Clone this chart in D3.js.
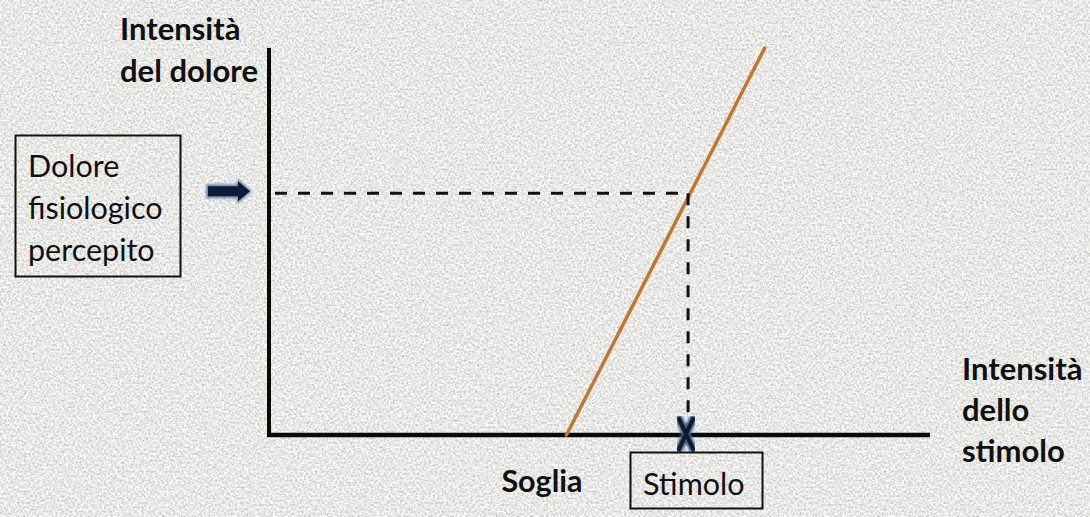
<!DOCTYPE html>
<html>
<head>
<meta charset="utf-8">
<script src="https://cdn.jsdelivr.net/npm/d3@7"></script>
<style>
  html, body { margin: 0; padding: 0; background: #e9e9e7; }
  svg { display: block; }
  text { font-family: Lato, "Open Sans", sans-serif; fill: #111; }
</style>
</head>
<body>
<svg id="chart" width="1090" height="517"></svg>
<script>
// Pain perception model: pain rises linearly once the stimulus exceeds the threshold.
const responseLine = [            // [stimulus intensity, pain intensity]
  [45, 0],
  [75, 100]
];
const threshold = 45;             // "Soglia"
const stimulus = 63.4;            // applied stimulus
const perceivedPain = 62.5;       // pain

const yAxisTitle = ["Intensità", "del dolore"];
const xAxisTitle = ["Intensità", "dello", "stimolo"];
const painLabel = ["Dolore", "fisiologico", "percepito"];
const thresholdLabel = "Soglia";
const stimulusLabel = "Stimolo";

const W = 1090, H = 517;
const svg = d3.select("#chart");

// grainy paper background
const defs = svg.append("defs");
const grain = defs.append("filter").attr("id", "grain")
  .attr("x", 0).attr("y", 0).attr("width", "100%").attr("height", "100%")
  .attr("color-interpolation-filters", "sRGB");
grain.append("feTurbulence").attr("type", "fractalNoise")
  .attr("baseFrequency", 0.45).attr("numOctaves", 3).attr("seed", 7).attr("result", "noise");
grain.append("feColorMatrix").attr("in", "noise").attr("type", "matrix")
  .attr("values", "0.42 0 0 0 0.70  0.42 0 0 0 0.70  0.42 0 0 0 0.69  0 0 0 0 1");

svg.append("rect").attr("width", W).attr("height", H).attr("fill", "#e8e8e6");
svg.append("rect").attr("width", W).attr("height", H).attr("fill", "#fff").attr("filter", "url(#grain)");

// soft blur for the arrow and cross marker
const soft = defs.append("filter").attr("id", "soft");
soft.append("feGaussianBlur").attr("stdDeviation", 1);

const x = d3.scaleLinear().domain([0, 100]).range([269, 930]);
const y = d3.scaleLinear().domain([0, 100]).range([435, 48]);

// axes (plain lines, no ticks)
svg.append("line")
  .attr("x1", x(0)).attr("x2", x(0)).attr("y1", y(100)).attr("y2", y(0) + 2)
  .attr("stroke", "#0a0a0a").attr("stroke-width", 4);
svg.append("line")
  .attr("x1", x(0) - 2).attr("x2", x(100)).attr("y1", y(0)).attr("y2", y(0))
  .attr("stroke", "#0a0a0a").attr("stroke-width", 4.5);

// response line
svg.append("path")
  .datum(responseLine)
  .attr("d", d3.line().x(d => x(d[0])).y(d => y(d[1])))
  .attr("fill", "none").attr("stroke", "#c4762c").attr("stroke-width", 3.5)
  .attr("stroke-linecap", "round");

// dashed guides from the perceived pain to the stimulus
svg.append("path")
  .attr("d", `M${x(0) + 6},${y(perceivedPain)}H${x(stimulus)}`)
  .attr("fill", "none").attr("stroke", "#111").attr("stroke-width", 3)
  .attr("stroke-dasharray", "12,11");
svg.append("path")
  .attr("d", `M${x(stimulus)},${y(perceivedPain)}V${y(0) - 6}`)
  .attr("fill", "none").attr("stroke", "#111").attr("stroke-width", 3)
  .attr("stroke-dasharray", "12,11");

// cross marker at the stimulus on the x axis
const cx = x(stimulus) - 2, cy = y(0) - 1;
const cross = svg.append("g").attr("filter", "url(#soft)");
[[-7, -15, 7, 15], [7, -15, -7, 15]].forEach(s => {
  cross.append("line")
    .attr("x1", cx + s[0]).attr("y1", cy + s[1]).attr("x2", cx + s[2]).attr("y2", cy + s[3])
    .attr("stroke", "#3d5f8f").attr("stroke-width", 8).attr("stroke-linecap", "round");
});
[[-7, -15, 7, 15], [7, -15, -7, 15]].forEach(s => {
  svg.append("line")
    .attr("x1", cx + s[0]).attr("y1", cy + s[1]).attr("x2", cx + s[2]).attr("y2", cy + s[3])
    .attr("stroke", "#0f1a2a").attr("stroke-width", 4).attr("stroke-linecap", "round");
});

// arrow pointing at the perceived pain level
const ay = y(perceivedPain) - 2;
svg.append("path")
  .attr("d", `M206,${ay - 7}H237V${ay - 13}L252,${ay}L237,${ay + 13}V${ay + 7}H206Z`)
  .attr("fill", "#4d7ab8").attr("filter", "url(#soft)").attr("opacity", 0.85);
svg.append("path")
  .attr("d", `M208,${ay - 5}H238V${ay - 10}L250,${ay}L238,${ay + 10}V${ay + 5}H208Z`)
  .attr("fill", "#0e1b33");

// y axis title
const yt = svg.append("text").attr("font-weight", 700).attr("font-size", 31);
yAxisTitle.forEach((t, i) => yt.append("tspan").attr("x", 120).attr("y", 40 + i * 42).text(t));

// x axis title
const xt = svg.append("text").attr("font-weight", 700).attr("font-size", 31);
xAxisTitle.forEach((t, i) => xt.append("tspan").attr("x", 962).attr("y", 380 + i * 41).text(t));

// perceived pain box
svg.append("rect").attr("x", 15.5).attr("y", 135.5).attr("width", 165).attr("height", 141)
  .attr("fill", "none").attr("stroke", "#111").attr("stroke-width", 2);
const pl = svg.append("text").attr("font-size", 30.5);
painLabel.forEach((t, i) => pl.append("tspan").attr("x", 28).attr("y", 177 + i * 42).text(t));

// threshold label
svg.append("text").attr("x", x(threshold) - 65).attr("y", 492)
  .attr("font-weight", 700).attr("font-size", 30.5).text(thresholdLabel);

// stimulus box
svg.append("rect").attr("x", 630.5).attr("y", 452.5).attr("width", 132).attr("height", 56)
  .attr("fill", "none").attr("stroke", "#111").attr("stroke-width", 2);
svg.append("text").attr("x", 643).attr("y", 495)
  .attr("font-size", 30.5).text(stimulusLabel);
</script>
</body>
</html>
